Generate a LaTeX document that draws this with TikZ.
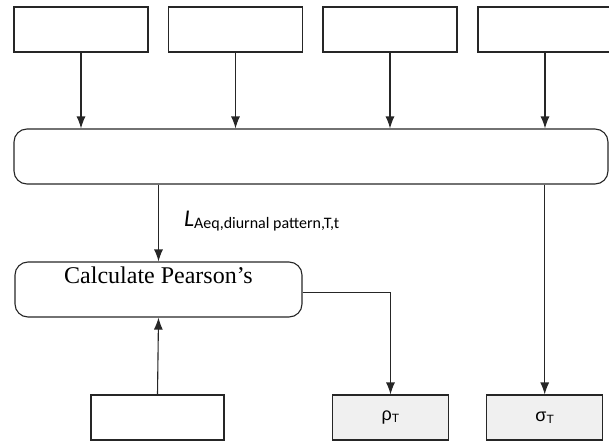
\documentclass[tikz,border=0pt]{standalone}
\usepackage{fontspec}
\setmainfont{Liberation Serif}
\newfontfamily\calfont{Carlito}
\newfontfamily\arialfont{Liberation Sans}
\usetikzlibrary{arrows.meta,positioning,calc}
\tikzset{
  blk/.style={draw=black!85,rectangle,line width=1.1pt,inner sep=0pt,align=center},
  inblk/.style={blk,minimum width=134pt,minimum height=45pt},
  rndblk/.style={blk,rounded corners=13pt},
  resblk/.style={blk,fill=gray!12,minimum width=116pt,minimum height=45pt,font=\arialfont\fontsize{18}{20}\selectfont},
  arr/.style={-{Latex[length=12pt,width=9pt]},line width=1.1pt,draw=black!85},
  lbl/.style={font=\calfont,anchor=base west,inner sep=0pt}
}
\newcommand{\subT}{\raisebox{-2.5pt}{\fontsize{12}{13}\selectfont T}}

\begin{document}
\begin{tikzpicture}[x=1pt,y=-1pt]
  \useasboundingbox (0,0) rectangle (609,441);
  \node[inblk] (in1) at (81,29.5) {};
  \node[inblk] (in2) at (235.5,29.5) {};
  \node[inblk] (in3) at (390,29.5) {};
  \node[inblk,minimum width=160pt] (in4) at (558,29.5) {};
  \coordinate (in4a) at (545,52);
  \node[rndblk,minimum width=594pt,minimum height=55pt] (main) at (311,156.5) {};
  \node[rndblk,minimum width=287pt,inner ysep=4pt,text height=17pt,text depth=30pt,
        font=\fontsize{24}{28}\selectfont] (pear) at (158.5,289.5) {Calculate Pearson's};
  \node[blk,minimum width=133pt,minimum height=45pt] (src) at (157.5,417.5) {};
  \node[resblk] (rho) at (390.5,417.5) {ρ\subT};
  \node[resblk] (sig) at (544.7,417.5) {σ\subT};

  \draw[arr] (in1.south) -- (in1.south |- main.north);
  \draw[arr] (in2.south) -- (in2.south |- main.north);
  \draw[arr] (in3.south) -- (in3.south |- main.north);
  \draw[arr] (in4a) -- (in4a |- main.north);
  \draw[arr] (main.south -| pear.north) -- node[lbl,pos=0.54,xshift=25pt]
    {{\fontsize{24}{28}\selectfont\itshape L}\raisebox{-2pt}{\fontsize{16}{18}\selectfont Aeq,diurnal pattern,T,t}} (pear.north);
  \draw[arr] (main.south -| sig.north) -- (sig.north);
  \draw[arr] (src.north) -- (pear.south);
  \draw[arr] ([yshift=-3pt]pear.east) -| (rho.north);
\end{tikzpicture}
\end{document}
